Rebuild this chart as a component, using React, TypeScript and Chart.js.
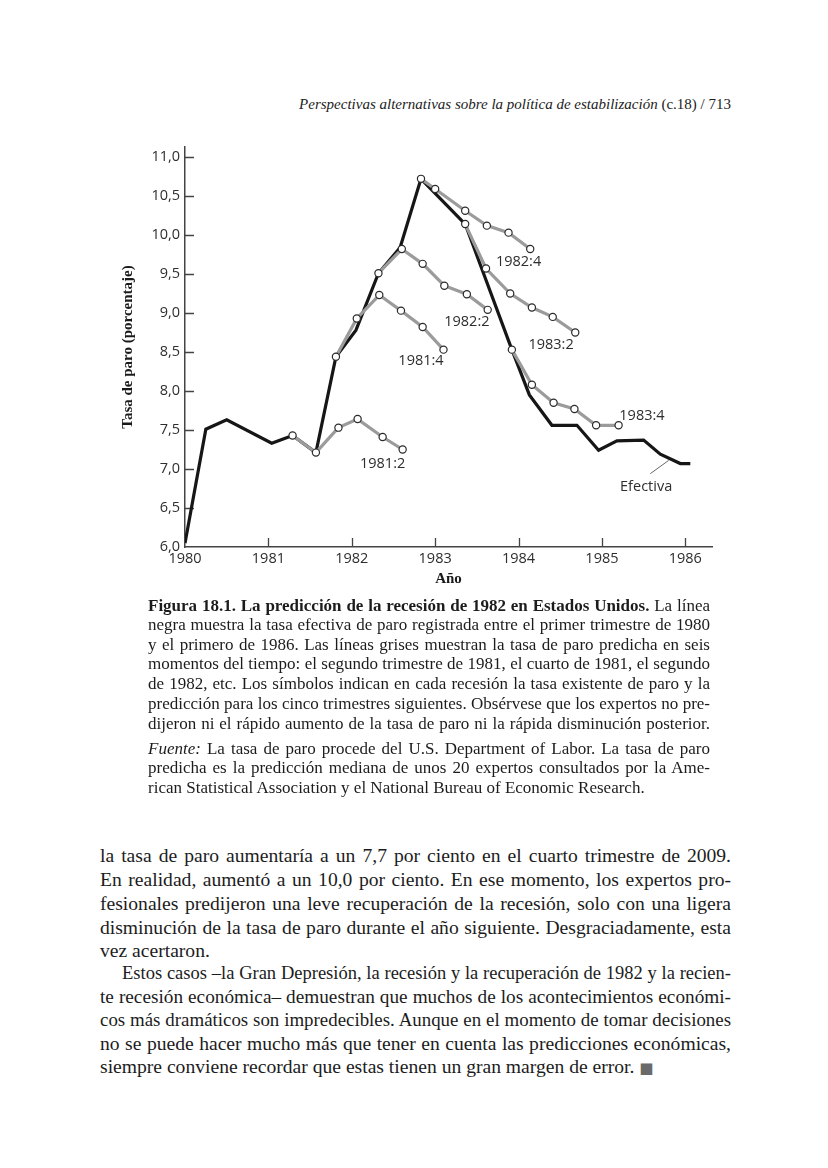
import React, { useEffect, useLayoutEffect, useRef } from 'react';
import { Chart, registerables } from 'chart.js';

Chart.register(...registerables);

// ---------- Data ----------
const yearTicks = [1980, 1981, 1982, 1983, 1984, 1985, 1986];
const rateTicks = [6.0, 6.5, 7.0, 7.5, 8.0, 8.5, 9.0, 9.5, 10.0, 10.5, 11.0];

// Actual unemployment rate ("Efectiva")
const actualYears = [1980.0, 1980.25, 1980.5, 1981.04, 1981.29, 1981.57, 1981.81, 1982.05, 1982.32, 1982.58, 1982.83, 1983.36, 1983.92, 1984.13, 1984.4, 1984.7, 1984.96, 1985.18, 1985.5, 1985.7, 1985.94, 1986.06];
const actualRates = [6.05, 7.51, 7.63, 7.33, 7.43, 7.21, 8.44, 8.78, 9.51, 9.84, 10.72, 10.14, 8.53, 7.95, 7.56, 7.56, 7.24, 7.36, 7.37, 7.19, 7.07, 7.07];

// Forecasts (existing rate + five following quarters)
const f1981q2Years = [1981.29, 1981.57, 1981.84, 1982.07, 1982.37, 1982.61];
const f1981q2Rates = [7.43, 7.21, 7.53, 7.64, 7.41, 7.25];
const f1981q4Years = [1981.81, 1982.06, 1982.33, 1982.59, 1982.85, 1983.1];
const f1981q4Rates = [8.44, 8.93, 9.23, 9.03, 8.82, 8.53];
const f1982q2Years = [1982.32, 1982.6, 1982.85, 1983.11, 1983.38, 1983.63];
const f1982q2Rates = [9.51, 9.82, 9.63, 9.35, 9.24, 9.04];
const f1982q4Years = [1982.83, 1983.0, 1983.36, 1983.62, 1983.88, 1984.14];
const f1982q4Rates = [10.72, 10.59, 10.31, 10.12, 10.03, 9.82];
const f1983q2Years = [1983.36, 1983.61, 1983.9, 1984.16, 1984.41, 1984.68];
const f1983q2Rates = [10.14, 9.57, 9.25, 9.07, 8.95, 8.75];
const f1983q4Years = [1983.92, 1984.16, 1984.42, 1984.67, 1984.93, 1985.2];
const f1983q4Rates = [8.53, 8.08, 7.85, 7.77, 7.56, 7.56];

const forecastNames = ['1981:2', '1981:4', '1982:2', '1982:4', '1983:2', '1983:4'];
const forecastYears = [f1981q2Years, f1981q4Years, f1982q2Years, f1982q4Years, f1983q2Years, f1983q4Years];
const forecastRates = [f1981q2Rates, f1981q4Rates, f1982q2Rates, f1982q4Rates, f1983q2Rates, f1983q4Rates];

// Label anchors (data units)
const labelYears = [1982.37, 1982.83, 1983.38, 1984.0, 1984.39, 1985.48];
const labelRates = [7.07, 8.39, 8.88, 9.65, 8.59, 7.68];
const actualLabel = 'Efectiva';
const actualLabelAt = [1985.53, 6.77];
const actualLeader = [1985.58, 6.94, 1985.8, 7.11];

const toPoints = (xs: number[], ys: number[]) => xs.map((x, i) => ({ x, y: ys[i] }));

const CHART_FONT = '"Open Sans", "DejaVu Sans", sans-serif';
const SERIF = '"Liberation Serif", "DejaVu Serif", serif';

const annotationPlugin = {
  id: 'annotations',
  afterDatasetsDraw(chart: any) {
    const { ctx, scales } = chart;
    const x = scales.x;
    const y = scales.y;
    ctx.save();
    ctx.font = `14.5px ${CHART_FONT}`;
    ctx.fillStyle = '#2e2e2e';
    ctx.textAlign = 'center';
    ctx.textBaseline = 'middle';
    forecastNames.forEach((name, i) => {
      ctx.fillText(name, x.getPixelForValue(labelYears[i]), y.getPixelForValue(labelRates[i]));
    });
    ctx.fillText(actualLabel, x.getPixelForValue(actualLabelAt[0]), y.getPixelForValue(actualLabelAt[1]));
    ctx.strokeStyle = '#666';
    ctx.lineWidth = 1;
    ctx.beginPath();
    ctx.moveTo(x.getPixelForValue(actualLeader[0]), y.getPixelForValue(actualLeader[1]));
    ctx.lineTo(x.getPixelForValue(actualLeader[2]), y.getPixelForValue(actualLeader[3]));
    ctx.stroke();
    ctx.restore();
  },
};

const innerTicksPlugin = {
  id: 'innerTicks',
  beforeDatasetsDraw(chart: any) {
    const { ctx, chartArea, scales } = chart;
    ctx.save();
    ctx.strokeStyle = '#444';
    ctx.lineWidth = 1.3;
    ctx.beginPath();
    yearTicks.forEach((v) => {
      if (v === yearTicks[0]) return;
      const px = Math.round(scales.x.getPixelForValue(v)) + 0.5;
      ctx.moveTo(px, chartArea.bottom);
      ctx.lineTo(px, chartArea.bottom - 9);
    });
    rateTicks.forEach((v) => {
      if (v === rateTicks[0]) return;
      const py = Math.round(scales.y.getPixelForValue(v)) + 0.5;
      ctx.moveTo(chartArea.left, py);
      ctx.lineTo(chartArea.left + 9, py);
    });
    ctx.stroke();
    ctx.restore();
  },
};

function UnemploymentChart() {
  const ref = useRef<HTMLCanvasElement | null>(null);
  useEffect(() => {
    if (!ref.current) return;
    const datasets: any[] = forecastNames.map((name, i) => ({
      label: name,
      data: toPoints(forecastYears[i], forecastRates[i]),
      borderColor: '#9b9b9b',
      borderWidth: 3.2,
      pointRadius: 3.6,
      pointBackgroundColor: '#ffffff',
      pointBorderColor: '#2a2a2a',
      pointBorderWidth: 1.2,
      tension: 0,
      order: 0,
    }));
    datasets.push({
      label: actualLabel,
      data: toPoints(actualYears, actualRates),
      borderColor: '#161616',
      borderWidth: 3.2,
      pointRadius: 0,
      tension: 0,
      order: 10,
    });
    const chart = new Chart(ref.current, {
      type: 'line',
      data: { datasets },
      options: {
        animation: false,
        responsive: false,
        maintainAspectRatio: false,
        devicePixelRatio: 1,
        layout: { padding: { top: 17, right: 28, left: 0, bottom: 0 } },
        plugins: { legend: { display: false }, tooltip: { enabled: false } },
        elements: { line: { borderJoinStyle: 'miter', borderCapStyle: 'butt' } },
        scales: {
          x: {
            type: 'linear',
            min: yearTicks[0],
            max: 1986.32,
            afterFit: (s: any) => { s.height = 53; },
            grid: { display: false, drawTicks: false },
            border: { display: true, color: '#444', width: 1.5 },
            ticks: {
              stepSize: 1,
              includeBounds: false,
              autoSkip: false,
              maxRotation: 0,
              padding: 3,
              color: '#2e2e2e',
              font: { family: CHART_FONT, size: 14.5 },
              callback: (v: any) => String(v),
            },
            title: {
              display: true,
              text: 'Año',
              color: '#1a1a1a',
              font: { family: SERIF, size: 15, weight: 'bold' },
              padding: { top: 0, bottom: 12 },
            },
          },
          y: {
            type: 'linear',
            min: rateTicks[0],
            max: 11.128,
            afterFit: (s: any) => { s.width = 85; },
            grid: { display: false, drawTicks: false },
            border: { display: true, color: '#444', width: 1.5 },
            ticks: {
              stepSize: 0.5,
              includeBounds: false,
              autoSkip: false,
              padding: 5,
              color: '#2e2e2e',
              font: { family: CHART_FONT, size: 14.5 },
              callback: (v: any) => Number(v).toFixed(1).replace('.', ','),
            },
            title: {
              display: true,
              text: 'Tasa de paro (porcentaje)',
              color: '#1a1a1a',
              font: { family: SERIF, size: 15, weight: 'bold' },
              padding: { top: 19, bottom: 0 },
            },
          },
        },
      } as any,
      plugins: [innerTicksPlugin, annotationPlugin],
    });
    return () => chart.destroy();
  }, []);
  return (
    <canvas
      ref={ref}
      width={640}
      height={470}
      style={{ position: 'absolute', left: 100, top: 130, width: 640, height: 470 }}
    />
  );
}

type LineProps = {
  y: number;
  left: number;
  width: number;
  size: number;
  lh: number;
  justify?: boolean;
  children: React.ReactNode;
};

function Line({ y, left, width, size, lh, justify = true, children }: LineProps) {
  const ref = useRef<HTMLDivElement | null>(null);
  useLayoutEffect(() => {
    const el = ref.current;
    if (!el) return;
    el.style.fontSize = size + 'px';
    const sw = el.scrollWidth;
    const cw = el.clientWidth;
    if (sw > cw) el.style.fontSize = (size * cw / sw) * 0.997 + 'px';
  }, [size]);
  return (
    <div
      ref={ref}
      style={{
        position: 'absolute',
        left,
        width,
        top: y - lh / 2 - size * 0.06,
        height: lh,
        lineHeight: lh + 'px',
        fontSize: size,
        fontFamily: SERIF,
        color: '#1c1c1c',
        whiteSpace: 'nowrap',
        textAlign: justify ? 'justify' : 'left',
        textAlignLast: justify ? 'justify' : 'left',
      }}
    >
      {children}
    </div>
  );
}

const CAP_L = 148;
const CAP_W = 562;
const CAP_S = 17;
const CAP_LH = 19.7;
const BODY_L = 100;
const BODY_W = 631;
const BODY_S = 19.6;
const BODY_LH = 23.3;

export default function App() {
  return (
    <div style={{ position: 'absolute', left: 0, top: 0, width: 828, height: 1168, background: '#fff', overflow: 'hidden' }}>
      <div
        style={{
          position: 'absolute',
          right: 97,
          top: 94,
          fontFamily: SERIF,
          fontSize: 15,
          lineHeight: '20px',
          color: '#222',
          whiteSpace: 'nowrap',
        }}
      >
        <i>Perspectivas alternativas sobre la política de estabilización</i> (c.18) / 713
      </div>

      <UnemploymentChart />

      <Line y={607} left={CAP_L} width={CAP_W} size={CAP_S} lh={CAP_LH}>
        <b>Figura 18.1. La predicción de la recesión de 1982 en Estados Unidos.</b> La línea
      </Line>
      <Line y={626} left={CAP_L} width={CAP_W} size={CAP_S} lh={CAP_LH}>
        negra muestra la tasa efectiva de paro registrada entre el primer trimestre de 1980
      </Line>
      <Line y={646} left={CAP_L} width={CAP_W} size={CAP_S} lh={CAP_LH}>
        y el primero de 1986. Las líneas grises muestran la tasa de paro predicha en seis
      </Line>
      <Line y={665} left={CAP_L} width={CAP_W} size={CAP_S} lh={CAP_LH}>
        momentos del tiempo: el segundo trimestre de 1981, el cuarto de 1981, el segundo
      </Line>
      <Line y={685} left={CAP_L} width={CAP_W} size={CAP_S} lh={CAP_LH}>
        de 1982, etc. Los símbolos indican en cada recesión la tasa existente de paro y la
      </Line>
      <Line y={705} left={CAP_L} width={CAP_W} size={CAP_S} lh={CAP_LH}>
        predicción para los cinco trimestres siguientes. Obsérvese que los expertos no pre-
      </Line>
      <Line y={725} left={CAP_L} width={CAP_W} size={CAP_S} lh={CAP_LH}>
        dijeron ni el rápido aumento de la tasa de paro ni la rápida disminución posterior.
      </Line>
      <Line y={750} left={CAP_L} width={CAP_W} size={CAP_S} lh={CAP_LH}>
        <i>Fuente:</i> La tasa de paro procede del U.S. Department of Labor. La tasa de paro
      </Line>
      <Line y={769} left={CAP_L} width={CAP_W} size={CAP_S} lh={CAP_LH}>
        predicha es la predicción mediana de unos 20 expertos consultados por la Ame-
      </Line>
      <Line y={789} left={CAP_L} width={CAP_W} size={CAP_S} lh={CAP_LH} justify={false}>
        rican Statistical Association y el National Bureau of Economic Research.
      </Line>

      <Line y={857} left={BODY_L} width={BODY_W} size={BODY_S} lh={BODY_LH}>
        la tasa de paro aumentaría a un 7,7 por ciento en el cuarto trimestre de 2009.
      </Line>
      <Line y={881} left={BODY_L} width={BODY_W} size={BODY_S} lh={BODY_LH}>
        En realidad, aumentó a un 10,0 por ciento. En ese momento, los expertos pro-
      </Line>
      <Line y={905} left={BODY_L} width={BODY_W} size={BODY_S} lh={BODY_LH}>
        fesionales predijeron una leve recuperación de la recesión, solo con una ligera
      </Line>
      <Line y={929} left={BODY_L} width={BODY_W} size={BODY_S} lh={BODY_LH}>
        disminución de la tasa de paro durante el año siguiente. Desgraciadamente, esta
      </Line>
      <Line y={952} left={BODY_L} width={BODY_W} size={BODY_S} lh={BODY_LH} justify={false}>
        vez acertaron.
      </Line>
      <Line y={975} left={BODY_L + 22} width={BODY_W - 22} size={BODY_S} lh={BODY_LH}>
        Estos casos –la Gran Depresión, la recesión y la recuperación de 1982 y la recien-
      </Line>
      <Line y={998} left={BODY_L} width={BODY_W} size={BODY_S} lh={BODY_LH}>
        te recesión económica– demuestran que muchos de los acontecimientos económi-
      </Line>
      <Line y={1021} left={BODY_L} width={BODY_W} size={BODY_S} lh={BODY_LH}>
        cos más dramáticos son impredecibles. Aunque en el momento de tomar decisiones
      </Line>
      <Line y={1045} left={BODY_L} width={BODY_W} size={BODY_S} lh={BODY_LH}>
        no se puede hacer mucho más que tener en cuenta las predicciones económicas,
      </Line>
      <Line y={1068} left={BODY_L} width={BODY_W} size={BODY_S} lh={BODY_LH} justify={false}>
        siempre conviene recordar que estas tienen un gran margen de error.{' '}
        <span style={{ color: '#6a6a6a', fontFamily: '"DejaVu Sans", sans-serif', fontSize: 15 }}>■</span>
      </Line>
    </div>
  );
}
